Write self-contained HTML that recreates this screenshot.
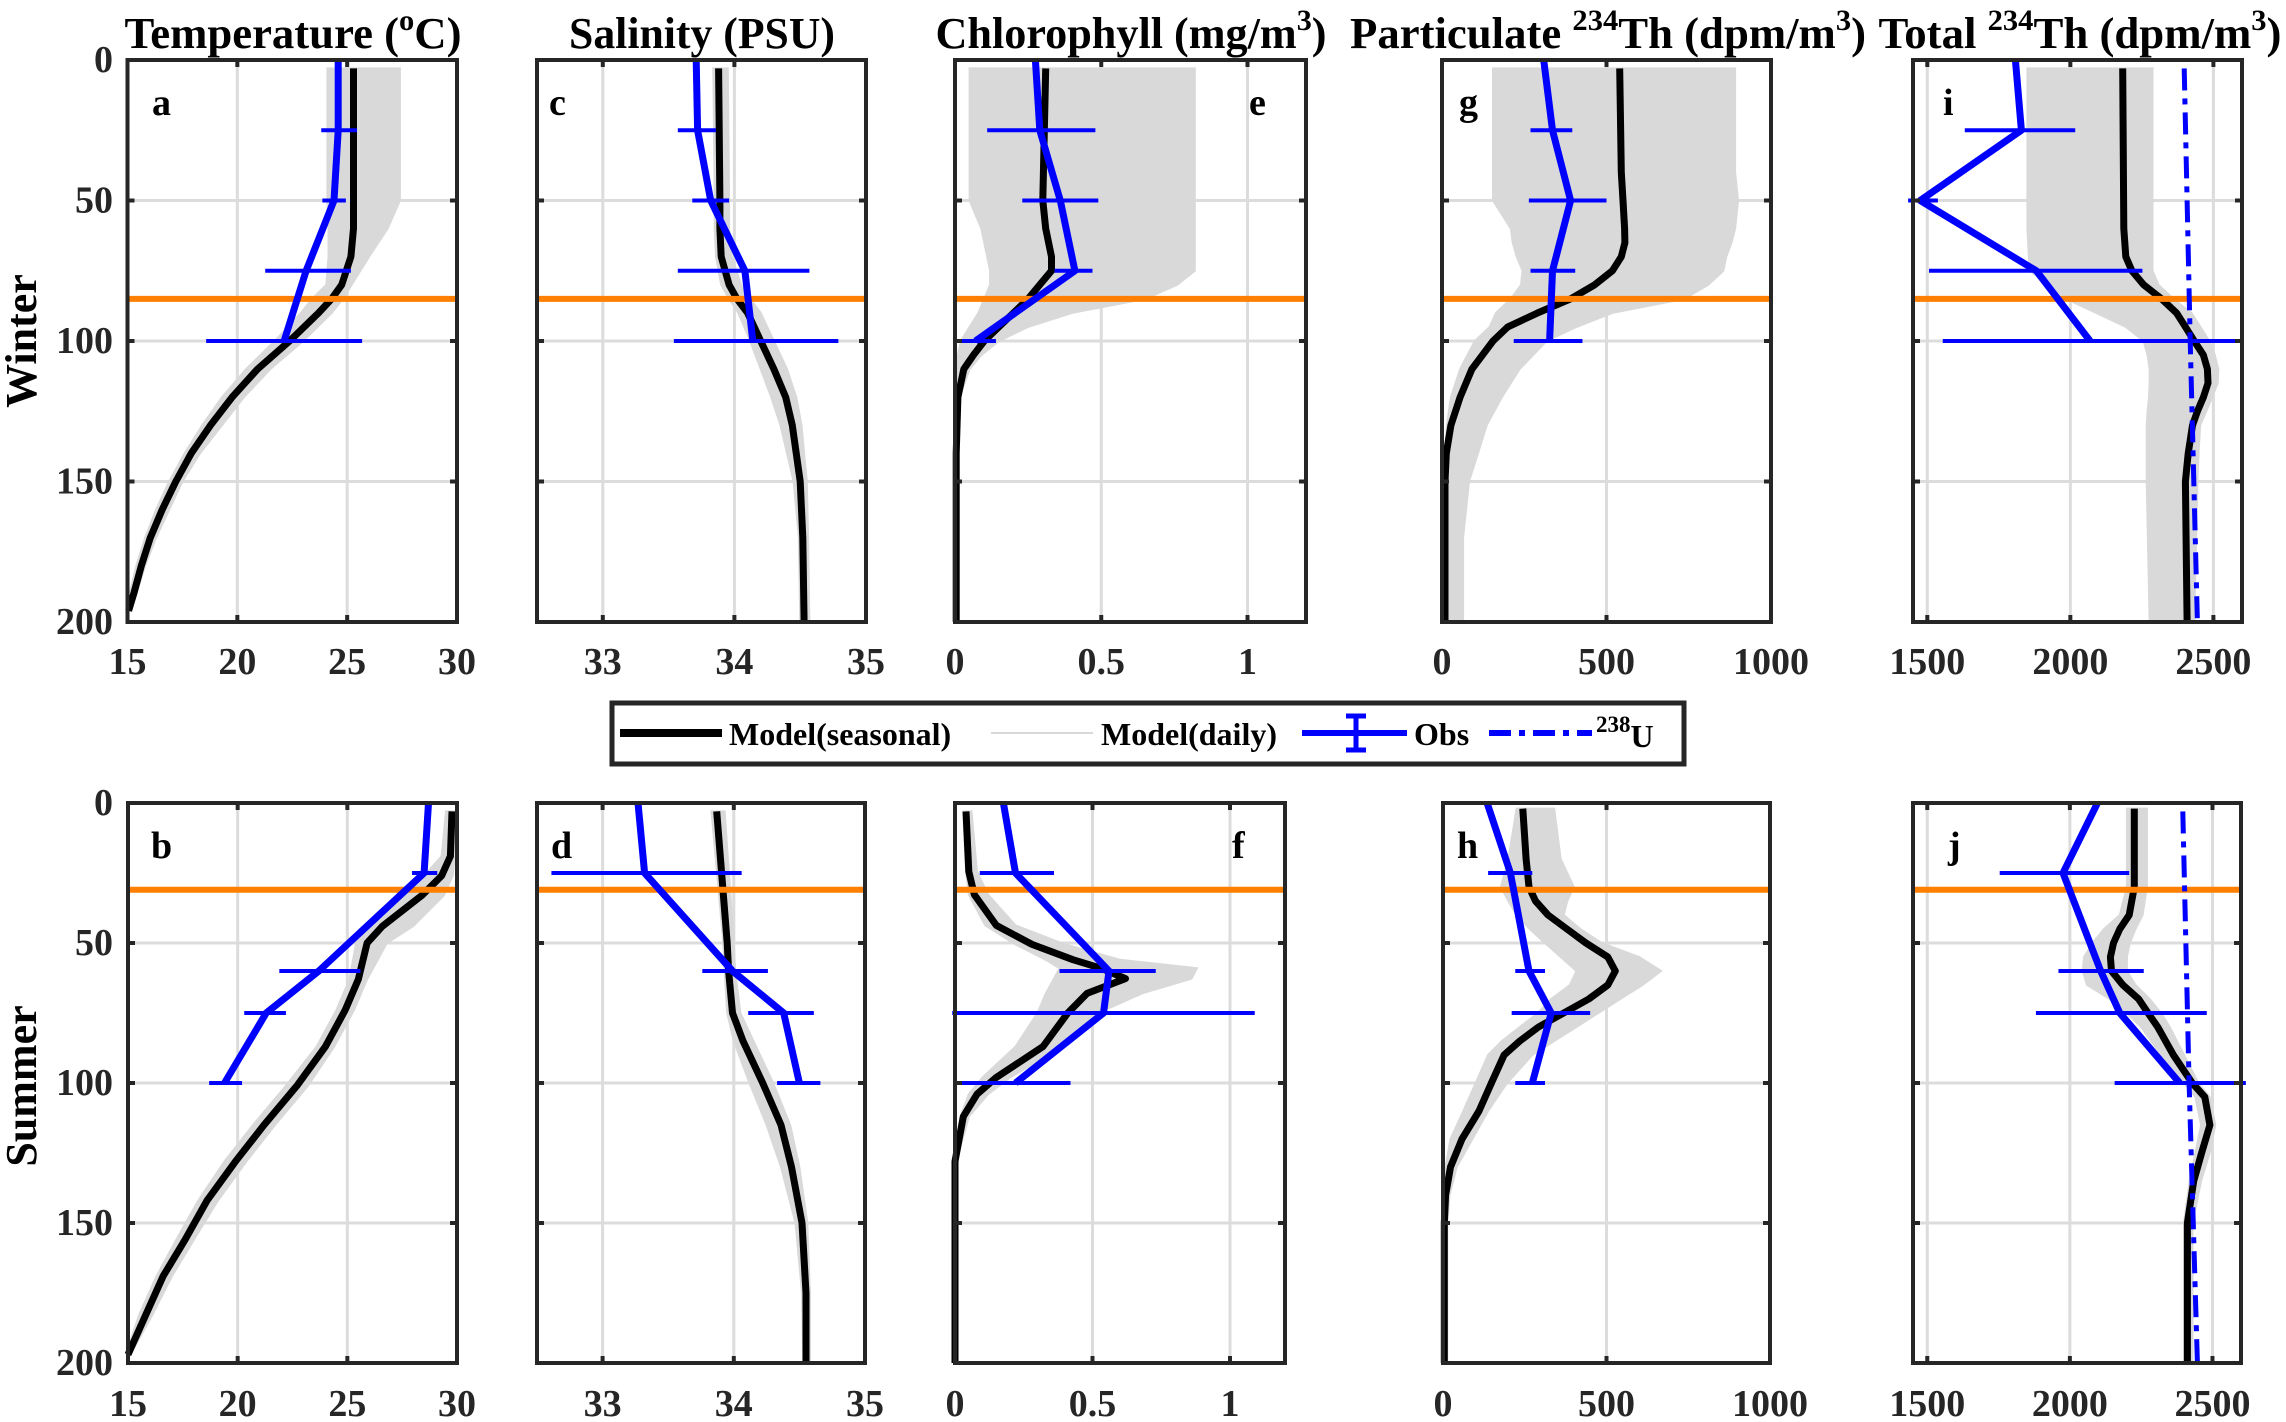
<!DOCTYPE html>
<html><head><meta charset="utf-8"><style>
html,body{margin:0;padding:0;background:#fff;}
svg{display:block;}
svg text{font-family:"Liberation Serif","DejaVu Serif",serif;font-weight:bold;}
</style></head><body>
<svg id="fig" xmlns="http://www.w3.org/2000/svg" width="2286" height="1422" viewBox="0 0 2286 1422" font-family="Liberation Serif, DejaVu Serif, serif" font-weight="bold">
<rect x="0" y="0" width="2286" height="1422" fill="#fff"/>
<g id="layer"></g>
<g fill="#000" font-size="44">
<text x="293" y="48" text-anchor="middle" textLength="337" lengthAdjust="spacingAndGlyphs">Temperature (<tspan font-size="30" dy="-18">o</tspan><tspan dy="18">C)</tspan></text>
<text x="702" y="48" text-anchor="middle" textLength="266" lengthAdjust="spacingAndGlyphs">Salinity (PSU)</text>
<text x="1131" y="48" text-anchor="middle" textLength="391" lengthAdjust="spacingAndGlyphs">Chlorophyll (mg/m<tspan font-size="30" dy="-18">3</tspan><tspan dy="18">)</tspan></text>
<text x="1608" y="48" text-anchor="middle" textLength="516" lengthAdjust="spacingAndGlyphs">Particulate <tspan font-size="30" dy="-18">234</tspan><tspan dy="18">Th (dpm/m</tspan><tspan font-size="30" dy="-18">3</tspan><tspan dy="18">)</tspan></text>
<text x="2080" y="48" text-anchor="middle" textLength="403" lengthAdjust="spacingAndGlyphs">Total <tspan font-size="30" dy="-18">234</tspan><tspan dy="18">Th (dpm/m</tspan><tspan font-size="30" dy="-18">3</tspan><tspan dy="18">)</tspan></text>
<text x="36" y="341" text-anchor="middle" transform="rotate(-90 36 341)">Winter</text>
<text x="36" y="1086" text-anchor="middle" transform="rotate(-90 36 1086)">Summer</text>
</g>
<g>
<rect x="612" y="703" width="1072" height="61" fill="#fff" stroke="#262626" stroke-width="5"/>
<line x1="620" y1="733" x2="722" y2="733" stroke="#000" stroke-width="8"/>
<text x="729" y="745" font-size="32">Model(seasonal)</text>
<line x1="991" y1="733" x2="1093" y2="733" stroke="#d9d9d9" stroke-width="2"/>
<text x="1101" y="745" font-size="32">Model(daily)</text>
<line x1="1302" y1="733" x2="1407" y2="733" stroke="#0000ff" stroke-width="6"/>
<line x1="1356" y1="716" x2="1356" y2="750" stroke="#0000ff" stroke-width="5"/>
<line x1="1346" y1="716" x2="1366" y2="716" stroke="#0000ff" stroke-width="5"/>
<line x1="1346" y1="750" x2="1366" y2="750" stroke="#0000ff" stroke-width="5"/>
<text x="1414" y="745" font-size="32">Obs</text>
<line x1="1489" y1="733" x2="1592" y2="733" stroke="#0000ff" stroke-width="6" stroke-dasharray="22,8,6,8"/>
<text x="1596" y="747" font-size="32"><tspan font-size="23" dy="-15">238</tspan><tspan dy="15">U</tspan></text>
</g>
</svg>
<script>
// ---- Data (depth in m) ----
const obsDepthW = [0,25,50,75,100];
const obsDepthS = [0,25,60,75,100];
const depthTicks = [0,50,100,150,200];
const tempTicks = [15,20,25,30];
const salTicks = [33,34,35];
const chlTicks = [0,0.5,1];
const chlTickLabels = ['0','0.5','1'];
const partTicks = [0,500,1000];
const totTicks = [1500,2000,2500];
const mldWinter = 85;
const mldSummer = 31;

const aDepth = [3,10,20,30,40,50,60,70,80,85,90,100,110,120,130,140,150,160,170,180,190,196];
const aModel = [25.29,25.29,25.29,25.29,25.29,25.29,25.29,25.17,24.75,24.29,23.7,22.38,20.92,19.76,18.78,17.9,17.2,16.58,16.04,15.63,15.28,15.05];
const aMin = [24.1,24.1,24.1,24.1,24.1,24.1,24.15,24.15,24.05,23.4,22.9,21.7,20.4,19.3,18.4,17.6,16.9,16.3,15.8,15.4,15.1,14.95];
const aMax = [27.4,27.4,27.4,27.4,27.4,27.4,26.84,26.0,25.2,24.8,24.3,23.0,21.5,20.3,19.3,18.3,17.5,16.9,16.3,15.8,15.4,15.1];
const aObs = [24.59,24.59,24.4,23.13,22.13];
const aLo = [23.82,23.82,23.87,21.27,18.58];
const aHi = [25.45,25.45,24.94,25.17,25.68];

const bDepth = [3,19,26,33,44,50,63,74,87,101,115,128,142,156,169,183,197];
const bModel = [29.77,29.7,29.3,28.4,26.6,25.9,25.5,24.9,24.0,22.7,21.2,19.9,18.6,17.6,16.6,15.8,15.0];
const bMin = [29.5,29.3,28.5,27.3,25.8,25.4,25.1,24.5,23.6,22.2,20.7,19.4,18.2,17.2,16.3,15.5,14.9];
const bMax = [29.9,29.9,29.8,29.4,28.0,26.8,25.9,25.3,24.4,23.2,21.7,20.4,19.1,18.0,17.0,16.1,15.1];
const bObs = [28.7,28.5,23.7,21.3,19.4];
const bLo = [28.3,27.95,21.9,20.3,18.7];
const bHi = [29.1,29.1,25.6,22.2,20.2];

const cDepth = [3,50,60,70,80,85,90,100,110,120,130,150,170,200];
const cModel = [33.88,33.89,33.89,33.9,33.96,34.02,34.1,34.2,34.3,34.39,34.44,34.5,34.52,34.53];
const cMin = [33.84,33.85,33.85,33.86,33.9,33.96,34.03,34.12,34.2,34.28,34.35,34.45,34.49,34.5];
const cMax = [33.95,33.96,33.96,33.98,34.05,34.12,34.2,34.3,34.4,34.47,34.51,34.55,34.56,34.57];
const cObs = [33.71,33.72,33.82,34.08,34.14];
const cLo = [33.56,33.57,33.68,33.57,33.54];
const cHi = [33.87,33.86,33.96,34.57,34.79];

const dDepth = [3,50,60,75,85,100,115,130,150,175,200];
const dModel = [33.87,33.95,33.96,33.99,34.07,34.22,34.36,34.44,34.52,34.55,34.55];
const dMin = [33.83,33.92,33.93,33.95,34.0,34.12,34.25,34.36,34.47,34.52,34.53];
const dMax = [33.93,34.0,34.01,34.05,34.15,34.3,34.43,34.5,34.56,34.58,34.58];
const dObs = [33.27,33.32,33.99,34.38,34.5];
const dLo = [32.59,32.61,33.76,34.11,34.33];
const dHi = [33.98,34.06,34.26,34.61,34.66];

const eDepth = [3,50,60,70,75,80,85,90,95,100,105,110,120,140,200];
const eModel = [0.31,0.30,0.31,0.33,0.33,0.29,0.25,0.2,0.15,0.1,0.063,0.03,0.01,0.004,0.004];
const eMin = [0.05,0.05,0.09,0.11,0.12,0.12,0.1,0.08,0.05,0.02,0.01,0.005,0,0,0];
const eMax = [0.82,0.82,0.82,0.82,0.82,0.76,0.65,0.4,0.25,0.15,0.09,0.05,0.015,0.006,0.006];
const eObs = [0.275,0.29,0.36,0.41,0.07];
const eLo = [0.12,0.11,0.23,0.34,0.0];
const eHi = [0.44,0.48,0.49,0.47,0.14];

const fDepth = [3,24.5,32.7,43.7,50.5,56,59,62.7,68,75,87,98,104,112,128,200];
const fModel = [0.04,0.05,0.07,0.15,0.28,0.43,0.53,0.62,0.48,0.41,0.32,0.15,0.08,0.03,0.0,0.0];
const fMin = [0.03,0.04,0.05,0.11,0.22,0.33,0.38,0.36,0.33,0.3,0.22,0.1,0.05,0.02,0,0];
const fMax = [0.06,0.08,0.12,0.22,0.4,0.6,0.88,0.86,0.68,0.52,0.4,0.2,0.12,0.05,0.005,0.005];
const fObs = [0.176,0.22,0.56,0.54,0.22];
const fLo = [0.05,0.09,0.38,-0.01,0.02];
const fHi = [0.32,0.36,0.73,1.09,0.42];

const gDepth = [3,40,50,60,65,70,75,80,85,90,95,100,110,120,130,140,150,170,200];
const gModel = [540,545,550,555,556,545,518,464,391,291,200,155,91,55,27,13,9,9,9];
const gMin = [155,155,155,209,215,227,245,240,209,164,145,100,55,27,15,9,5,2,0];
const gMax = [891,891,900,891,880,864,855,809,736,518,409,318,236,182,136,109,82,64,64];
const gObs = [309,336,391,336,327];
const gLo = [236,269,264,269,218];
const gHi = [391,396,500,405,427];

const hDepth = [2,20,30,35,40,45,50,55,60,65,70,75,80,85,90,100,110,120,130,140,150,200];
const hModel = [244,254,263,283,321,379,437,504,527,504,446,369,292,235,187,148,110,58,23,8,4,4];
const hMin = [225,200,177,200,225,265,312,360,408,388,331,290,235,180,138,100,62,23,8,0,0,0];
const hMax = [340,360,400,380,369,420,485,600,667,610,542,475,408,340,273,196,138,90,42,20,13,13];
const hObs = [135,206,263,331,273];
const hLo = [58,138,221,210,221];
const hHi = [215,273,312,450,312];

const iDepth = [3,60,70,75,80,85,90,95,100,105,110,115,120,125,130,140,150,200];
const iModel = [2183,2187,2194,2215,2256,2319,2371,2402,2433,2465,2479,2481,2465,2444,2427,2412,2402,2408];
const iMin = [1850,1850,1855,1860,1920,1985,2090,2194,2256,2270,2277,2277,2275,2270,2267,2267,2267,2277];
const iMax = [2287,2287,2287,2287,2308,2360,2423,2455,2485,2505,2517,2515,2496,2475,2454,2448,2444,2433];
const iObs = [1808,1829,1475,1881,2069];
const iLo = [1694,1631,1433,1506,1554];
const iHi = [1927,2017,1537,2252,2590];
const uDepth = [3,100,200];
const iU = [2398,2419,2444];

const jDepth = [2,30,40,45,50,55,60,65,70,75,80,90,100,105,115,125,135,150,200];
const jModel = [2226,2226,2208,2175,2153,2142,2146,2186,2241,2274,2308,2363,2429,2473,2491,2462,2434,2412,2412];
const jMin = [2200,2200,2175,2120,2080,2050,2045,2060,2140,2200,2250,2320,2400,2440,2460,2440,2420,2400,2400];
const jMax = [2270,2270,2255,2230,2210,2200,2200,2230,2280,2320,2350,2400,2450,2490,2510,2490,2460,2430,2430];
const jObs = [2097,1976,2108,2175,2385];
const jLo = [1836,1754,1960,1881,2157];
const jHi = [2352,2208,2259,2480,2617];
const jU = [2396,2418,2447];

// ---- Layout ----
const W = {top:60, bot:622, lbl:674};
const S = {top:803, bot:1363, lbl:1416};
const panels = [
 {id:'a',row:W,x0:127.5,x1:457,dom:[15,30],ticks:tempTicks,tl:null,dep:aDepth,mod:aModel,mn:aMin,mx:aMax,od:obsDepthW,ob:aObs,lo:aLo,hi:aHi,mld:mldWinter,lx:152,ylab:true},
 {id:'b',row:S,x0:128,x1:457,dom:[15,30],ticks:tempTicks,tl:null,dep:bDepth,mod:bModel,mn:bMin,mx:bMax,od:obsDepthS,ob:bObs,lo:bLo,hi:bHi,mld:mldSummer,lx:151,ylab:true},
 {id:'c',row:W,x0:537,x1:866,dom:[32.5,35],ticks:salTicks,tl:null,dep:cDepth,mod:cModel,mn:cMin,mx:cMax,od:obsDepthW,ob:cObs,lo:cLo,hi:cHi,mld:mldWinter,lx:549},
 {id:'d',row:S,x0:537,x1:865,dom:[32.5,35],ticks:salTicks,tl:null,dep:dDepth,mod:dModel,mn:dMin,mx:dMax,od:obsDepthS,ob:dObs,lo:dLo,hi:dHi,mld:mldSummer,lx:551},
 {id:'e',row:W,x0:955,x1:1306,dom:[0,1.2],ticks:chlTicks,tl:chlTickLabels,dep:eDepth,mod:eModel,mn:eMin,mx:eMax,od:obsDepthW,ob:eObs,lo:eLo,hi:eHi,mld:mldWinter,lx:1249},
 {id:'f',row:S,x0:955,x1:1285,dom:[0,1.2],ticks:chlTicks,tl:chlTickLabels,dep:fDepth,mod:fModel,mn:fMin,mx:fMax,od:obsDepthS,ob:fObs,lo:fLo,hi:fHi,mld:mldSummer,lx:1232},
 {id:'g',row:W,x0:1442,x1:1771,dom:[0,1000],ticks:partTicks,tl:null,dep:gDepth,mod:gModel,mn:gMin,mx:gMax,od:obsDepthW,ob:gObs,lo:gLo,hi:gHi,mld:mldWinter,lx:1459},
 {id:'h',row:S,x0:1443,x1:1770,dom:[0,1000],ticks:partTicks,tl:null,dep:hDepth,mod:hModel,mn:hMin,mx:hMax,od:obsDepthS,ob:hObs,lo:hLo,hi:hHi,mld:mldSummer,lx:1457},
 {id:'i',row:W,x0:1913,x1:2242,dom:[1450,2600],ticks:totTicks,tl:null,dep:iDepth,mod:iModel,mn:iMin,mx:iMax,od:obsDepthW,ob:iObs,lo:iLo,hi:iHi,mld:mldWinter,lx:1943,u:iU},
 {id:'j',row:S,x0:1913,x1:2241,dom:[1450,2600],ticks:totTicks,tl:null,dep:jDepth,mod:jModel,mn:jMin,mx:jMax,od:obsDepthS,ob:jObs,lo:jLo,hi:jHi,mld:mldSummer,lx:1948,u:jU}
];
const NS='http://www.w3.org/2000/svg';
const layer=document.getElementById('layer');
function mk(tag,attrs,parent){const e=document.createElementNS(NS,tag);for(const k in attrs)e.setAttribute(k,attrs[k]);(parent||layer).appendChild(e);return e;}
function X(p,v){return p.x0+(v-p.dom[0])/(p.dom[1]-p.dom[0])*(p.x1-p.x0);}
function Y(p,d){return p.row.top+d/200*(p.row.bot-p.row.top);}
const FF='Liberation Serif, DejaVu Serif, serif';

panels.forEach(p=>{
 const g=mk('g',{});
 
 
 const clipId='clip-'+p.id;
 const cp=mk('clipPath',{id:clipId},g);
 mk('rect',{x:p.x0,y:p.row.top,width:p.x1-p.x0,height:p.row.bot-p.row.top},cp);
 const T=p.row.top,B=p.row.bot;
 p.ticks.forEach(t=>{
  const gl=mk('line',{x1:X(p,t),x2:X(p,t),y1:T,y2:B,stroke:'#dcdcdc','stroke-width':3},g);
  
  
 });
 depthTicks.forEach(d=>{
  const gl=mk('line',{x1:p.x0,x2:p.x1,y1:Y(p,d),y2:Y(p,d),stroke:'#dcdcdc','stroke-width':3},g);
  
  
 });
 const cg=mk('g',{'clip-path':'url(#'+clipId+')'},g);
 let pts=[];
 for(let k=0;k<p.dep.length;k++)pts.push(X(p,p.mn[k]).toFixed(1)+','+Y(p,p.dep[k]).toFixed(1));
 for(let k=p.dep.length-1;k>=0;k--)pts.push(X(p,p.mx[k]).toFixed(1)+','+Y(p,p.dep[k]).toFixed(1));
 const env=mk('polygon',{points:pts.join(' '),fill:'#d9d9d9',stroke:'#d9d9d9','stroke-width':2},cg);
 
 
 const mp=p.dep.map((d,k)=>X(p,p.mod[k]).toFixed(1)+','+Y(p,d).toFixed(1)).join(' ');
 const ml=mk('polyline',{points:mp,fill:'none',stroke:'#000','stroke-width':7,'stroke-linejoin':'round'},g);
 
 
 const ol=mk('line',{x1:p.x0,x2:p.x1,y1:Y(p,p.mld),y2:Y(p,p.mld),stroke:'#ff7f00','stroke-width':6},g);
 
 
 p.od.forEach((d,k)=>{
  const eb=mk('line',{x1:X(p,p.lo[k]),x2:X(p,p.hi[k]),y1:Y(p,d),y2:Y(p,d),stroke:'#0000ff','stroke-width':4},g);
  
  
 });
 const op=p.od.map((d,k)=>X(p,p.ob[k]).toFixed(1)+','+Y(p,d).toFixed(1)).join(' ');
 const obl=mk('polyline',{points:op,fill:'none',stroke:'#0000ff','stroke-width':7,'stroke-linejoin':'round'},g);
 
 
 if(p.u){
  const up=uDepth.map((d,k)=>X(p,p.u[k]).toFixed(1)+','+Y(p,d).toFixed(1)).join(' ');
  const ul=mk('polyline',{points:up,fill:'none',stroke:'#0000ff','stroke-width':5,'stroke-dasharray':'22,8,6,8'},g);
  
  
 }
 const fr=mk('rect',{x:p.x0,y:T,width:p.x1-p.x0,height:B-T,fill:'none',stroke:'#262626','stroke-width':4},g);
 
 
 p.ticks.forEach((t,k)=>{
  const x=X(p,t);
  mk('line',{x1:x,x2:x,y1:B,y2:B-7,stroke:'#262626','stroke-width':4},g);
  mk('line',{x1:x,x2:x,y1:T,y2:T+7,stroke:'#262626','stroke-width':4},g);
  const tx=mk('text',{x:x,y:p.row.lbl,'text-anchor':'middle','font-size':38,fill:'#262626','font-family':FF,'font-weight':'bold'},g);
  tx.textContent=p.tl?p.tl[k]:String(t);
  
  
 });
 depthTicks.forEach(d=>{
  const y=Y(p,d);
  mk('line',{x1:p.x0,x2:p.x0+7,y1:y,y2:y,stroke:'#262626','stroke-width':4},g);
  mk('line',{x1:p.x1,x2:p.x1-7,y1:y,y2:y,stroke:'#262626','stroke-width':4},g);
  if(p.ylab){
   const ty=mk('text',{x:113,y:y+12,'text-anchor':'end','font-size':38,fill:'#262626','font-family':FF,'font-weight':'bold'},g);
   ty.textContent=String(d);
   
   
  }
 });
 const lt=mk('text',{x:p.lx,y:T+55,'font-size':38,fill:'#000','font-family':FF,'font-weight':'bold'},g);
 lt.textContent=p.id;
 
 
});
</script>
</body></html>
